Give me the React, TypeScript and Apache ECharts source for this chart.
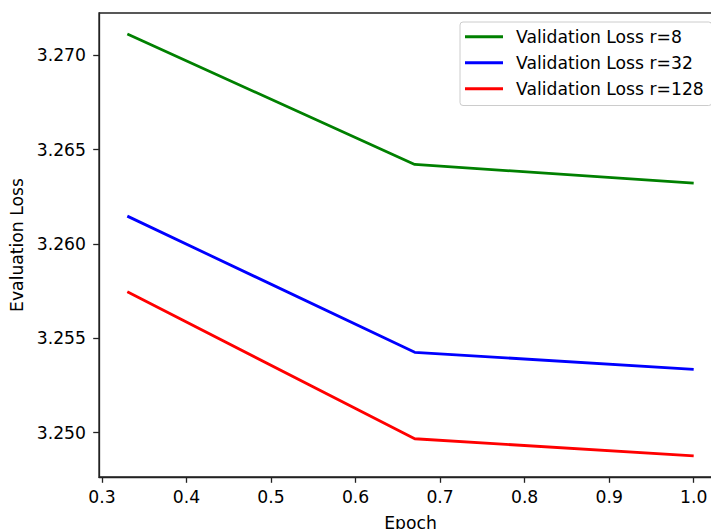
import React, { useEffect, useRef } from "react";
import * as echarts from "echarts";

const epochs = [0.33, 0.67, 1.0];
const lossR8 = [3.27113, 3.26422, 3.26323];
const lossR32 = [3.26148, 3.25426, 3.25336];
const lossR128 = [3.25747, 3.24968, 3.24877];
const seriesNames = ["Validation Loss r=8", "Validation Loss r=32", "Validation Loss r=128"];
const xTicks = [0.3, 0.4, 0.5, 0.6, 0.7, 0.8, 0.9, 1.0];
const yTicks = [3.25, 3.255, 3.26, 3.265, 3.27];

const FONT = "DejaVu Sans";
const FS = 17.2;

export default function App() {
  const ref = useRef<HTMLDivElement>(null);
  useEffect(() => {
    document.body.style.margin = "0";
    const chart = echarts.init(ref.current!, null, { renderer: "svg" });
    const allY = [...lossR8, ...lossR32, ...lossR128];
    const yMinD = Math.min(...allY), yMaxD = Math.max(...allY);
    const yPad = (yMaxD - yMinD) * 0.05;
    const xMinD = Math.min(...epochs), xMaxD = Math.max(...epochs);
    const xPad = (xMaxD - xMinD) * 0.05;
    const mk = (name: string, vals: number[], color: string) => ({
      name,
      type: "line",
      data: epochs.map((e, i) => [e, vals[i]]),
      symbol: "none",
      lineStyle: { color, width: 2.8 },
      itemStyle: { color },
    });
    chart.setOption({
      animation: false,
      textStyle: { fontFamily: FONT },
      grid: {
        left: 99,
        top: 13,
        right: -11,
        bottom: 52,
        outerBoundsMode: "none",
        containLabel: false,
        show: true,
        borderColor: "#222",
        borderWidth: 1.3,
        backgroundColor: "transparent",
      },
      legend: {
        orient: "vertical",
        left: 460,
        top: 22,
        padding: [6, 8, 8, 5],
        backgroundColor: "#fff",
        borderColor: "#cccccc",
        borderWidth: 1,
        borderRadius: 3,
        icon: "rect",
        itemWidth: 38,
        itemHeight: 2.8,
        itemGap: 8.5,
        textStyle: { fontFamily: FONT, fontSize: FS, color: "#000", lineHeight: 17.5, padding: [0, 0, 0, 8] },
        data: seriesNames,
      },
      xAxis: {
        type: "value",
        min: xMinD - xPad,
        max: xMaxD + xPad,
        name: "Epoch",
        nameLocation: "middle",
        nameGap: 37,
        nameTextStyle: { fontFamily: FONT, fontSize: FS, color: "#000" },
        splitLine: { show: false },
        axisLine: { show: true, lineStyle: { color: "#222", width: 1.3 } },
        axisTick: { show: true, customValues: xTicks, length: 5.8, lineStyle: { color: "#222", width: 1.3 } },
        axisLabel: {
          customValues: xTicks,
          margin: 11,
          fontFamily: FONT,
          fontSize: FS,
          color: "#000",
          formatter: (v: number) => v.toFixed(1),
        },
      },
      yAxis: {
        type: "value",
        min: yMinD - yPad,
        max: yMaxD + yPad,
        name: "Evaluation Loss",
        nameLocation: "middle",
        nameGap: 68,
        nameTextStyle: { fontFamily: FONT, fontSize: FS, color: "#000" },
        splitLine: { show: false },
        axisLine: { show: true, lineStyle: { color: "#222", width: 1.3 } },
        axisTick: { show: true, customValues: yTicks, length: 5.8, lineStyle: { color: "#222", width: 1.3 } },
        axisLabel: {
          customValues: yTicks,
          margin: 13,
          fontFamily: FONT,
          fontSize: FS,
          color: "#000",
          formatter: (v: number) => v.toFixed(3),
        },
      },
      series: [
        mk(seriesNames[0], lossR8, "#008000"),
        mk(seriesNames[1], lossR32, "#0000ff"),
        mk(seriesNames[2], lossR128, "#ff0000"),
      ],
    });
    return () => chart.dispose();
  }, []);
  return (
    <div
      ref={ref}
      style={{ position: "absolute", left: 0, top: 0, width: 711, height: 529, background: "#fff" }}
    />
  );
}
